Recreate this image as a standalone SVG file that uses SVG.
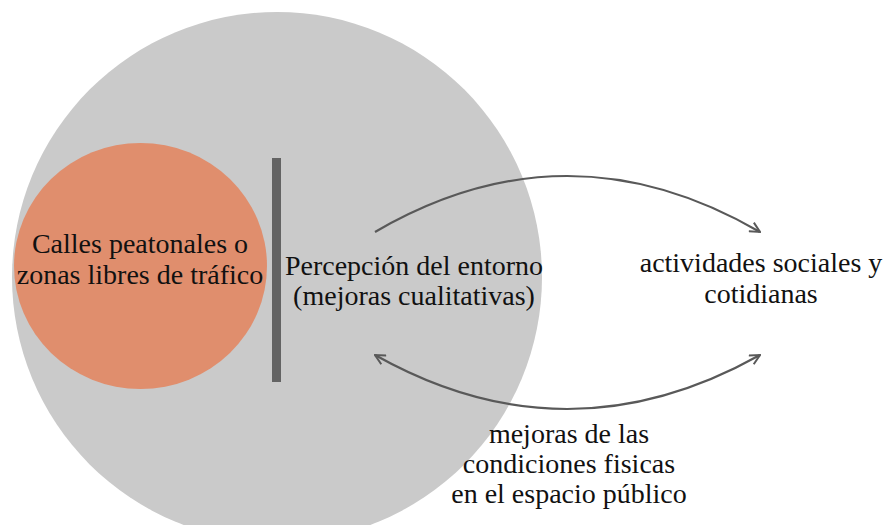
<svg xmlns="http://www.w3.org/2000/svg" width="885" height="525" viewBox="0 0 885 525">
<defs>
<style>
.t{font-family:'Liberation Serif', 'Times New Roman', Times, serif;font-size:28px;fill:#111;text-anchor:middle}
.conn{fill:none;stroke:#595959;stroke-width:2.2}
</style>
<marker id="arr" viewBox="0 0 12 12" refX="11" refY="6" markerWidth="12" markerHeight="12" markerUnits="userSpaceOnUse" orient="auto-start-reverse">
<path d="M1,1 L11,6 L1,11" fill="none" stroke="#595959" stroke-width="2"/>
</marker>
</defs>
<rect width="885" height="525" fill="#fff"/>
<g id="entorno">
<circle cx="277" cy="277" r="265" fill="#cacaca"/>
<text class="t" x="414" y="275">Percepción del entorno</text>
<text class="t" x="414" y="305">(mejoras cualitativas)</text>
</g>
<g id="calles">
<ellipse cx="140.5" cy="266" rx="126.5" ry="123" fill="#e08e6d"/>
<text class="t" x="140" y="253">Calles peatonales o</text>
<text class="t" x="140" y="284">zonas libres de tráfico</text>
</g>
<g id="barra">
<rect x="272" y="158" width="9" height="224" fill="#636363"/>
</g>
<g id="actividades">
<text class="t" x="761" y="272">actividades sociales y</text>
<text class="t" x="761" y="303">cotidianas</text>
</g>
<g id="mejoras">
<text class="t" x="569" y="443">mejoras de las</text>
<text class="t" x="569" y="473">condiciones fisicas</text>
<text class="t" x="569" y="503">en el espacio público</text>
</g>
<g id="connectors">
<path class="conn" d="M375,232 Q567,120 760,232" marker-end="url(#arr)"/>
<path class="conn" d="M375,355 Q567,463 760,355" marker-start="url(#arr)" marker-end="url(#arr)"/>
</g>
</svg>
